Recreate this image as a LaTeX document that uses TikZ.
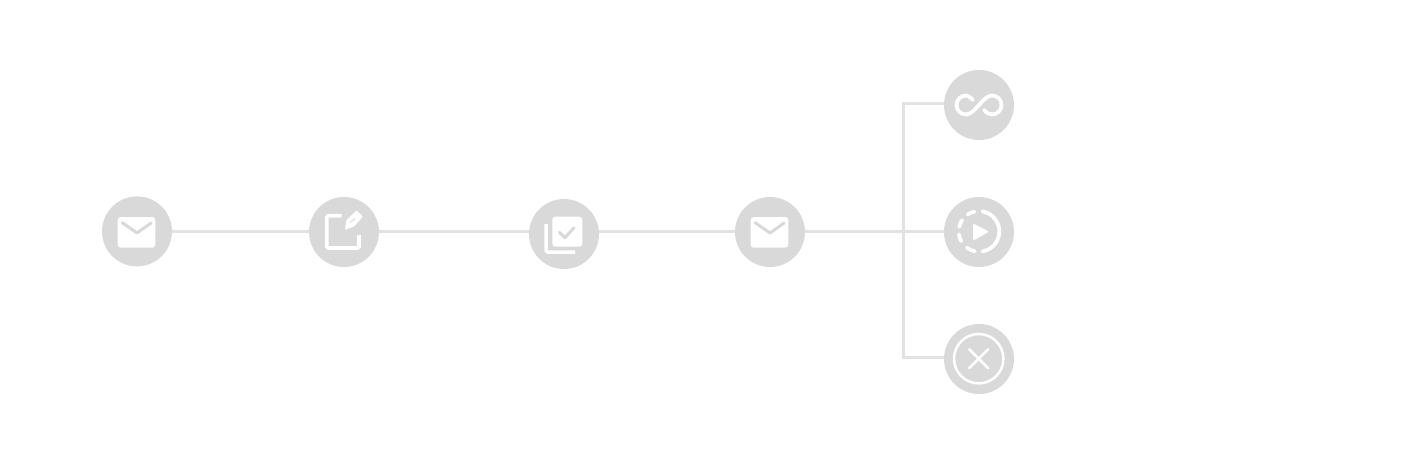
\documentclass[tikz,border=0pt]{standalone}
\usetikzlibrary{positioning,backgrounds}

\definecolor{dotgrey}{HTML}{D9D9D9}
\definecolor{wiregrey}{HTML}{E2E2E2}

\tikzset{
	dot/.style={circle, fill=dotgrey, minimum size=70pt, inner sep=0pt, outer sep=0pt},
	wire/.style={draw=wiregrey, line width=3pt},
	iconline/.style={draw=white, line width=3.8pt, line cap=round},
	iconcut/.style={draw=dotgrey, line width=3pt, line cap=round, line join=round},
	mailicon/.pic={
		\fill [white, rounded corners=3pt] (-19.3,-15) rectangle (18.3,15.7);
		\draw [iconcut] (-14.8,-9.3) -- (0,0.9) -- (14.2,-9);
	},
	editicon/.pic={
		\draw [iconline, line width=3.6pt, line cap=butt, rounded corners=1.5pt] (-2.3,-16.3) -- (-17.3,-16.3) -- (-17.3,16) -- (15,16) -- (15,3);
		\fill [white, rounded corners=1pt] (0.8,-2) -- (2.5,-12) -- (12.5,-21.5) -- (19,-15.5) -- (10,-5.5) -- cycle;
		\draw [dotgrey, line width=1pt] (6.5,-9.5) -- (11,-13.5);
	},
	checkicon/.pic={
		\fill [white, rounded corners=3pt] (-11.7,-17.3) rectangle (18.3,12.7);
		\draw [iconcut] (-4.7,-1.7) -- (1,3.7) -- (10,-6.3);
		\draw [iconline, line width=3.5pt, line cap=butt, rounded corners=1.5pt] (-18,-10) -- (-18,18) -- (11,18);
	},
	loopicon/.pic={
		\draw [iconline] (-6,-5) .. controls (-9,-8) and (-12,-9.5) .. (-13,-9.5) .. controls (-18,-9.5) and (-22.5,-5.5) .. (-22.5,0) .. controls (-22.5,5.5) and (-18,9.5) .. (-13,9.5) .. controls (-4,9.5) and (4,-9.5) .. (13,-9.5) .. controls (18,-9.5) and (22.5,-5.5) .. (22.5,0) .. controls (22.5,5.5) and (18,9.5) .. (13,9.5) .. controls (10,9.5) and (8,8) .. (5,5);
	},
	playicon/.pic={
		\begin{scope}[shift={(0,-0.6)}]
		\draw [iconline] (-80:20.3) arc [start angle=-80, end angle=80, radius=20.3];
		% dashed part of the ring
		\foreach \from/\to in {-103/-124, -146/-167, -188/-209, -233/-258}
			\draw [iconline] (\from:20.3) arc [start angle=\from, end angle=\to, radius=20.3];
		\end{scope}
		\fill [white, draw=white, line width=2pt, line join=round] (-5,-7) -- (8,-0.3) -- (-5,7) -- cycle;
	},
	cancelicon/.pic={
		\begin{scope}[shift={(-0.3,-0.3)}]
		\draw [white, line width=2.5pt] (0,0) circle [radius=24.7];
		\draw [white, line width=2.5pt, line cap=round] (-9.5,-9.5) -- (9.5,9.5);
		\draw [white, line width=2.5pt, line cap=round] (-9.5,9.5) -- (9.5,-9.5);
		\end{scope}
	},
}

\begin{document}
\begin{tikzpicture}[x=1pt, y=-1pt]
	\useasboundingbox (0,0) rectangle (1405,468);

	\node [dot] (mail1) at (137,231.4) {};
	\node [dot, right=137pt of mail1, yshift=-0.6pt] (edit) {};
	\node [dot, right=150pt of edit, yshift=-2pt] (check) {};
	\node [dot, right=136pt of check, yshift=2pt] (mail2) {};
	\node [dot, right=139pt of mail2] (play) {};
	\node [dot, above=57pt of play] (loop) {};
	\node [dot, below=57pt of play] (cancel) {};

	\coordinate (fork) at ([xshift=-75.3pt]play |- mail1);
	\coordinate (forktop) at ([yshift=1.7pt]loop -| fork);
	\coordinate (forkbot) at ([yshift=1.5pt]cancel -| fork);

	\begin{scope}[on background layer]
		\draw [wire] (mail1) -- (mail1 -| edit);
		\draw [wire] (mail1 -| edit) -- (mail1 -| check);
		\draw [wire] (mail1 -| check) -- (mail1 -| mail2);
		\draw [wire] (mail1 -| mail2) -- (mail1 -| play);
		\draw [wire] (forktop -| loop) -- (forktop) -- (forkbot) -- (forkbot -| cancel);
	\end{scope}

	\pic at ([yshift=-0.6pt]mail1) {mailicon};
	\pic at (edit) {editicon};
	\pic at (check) {checkicon};
	\pic at (mail2) {mailicon};
	\pic at (loop) {loopicon};
	\pic at (play) {playicon};
	\pic at (cancel) {cancelicon};
\end{tikzpicture}
\end{document}
